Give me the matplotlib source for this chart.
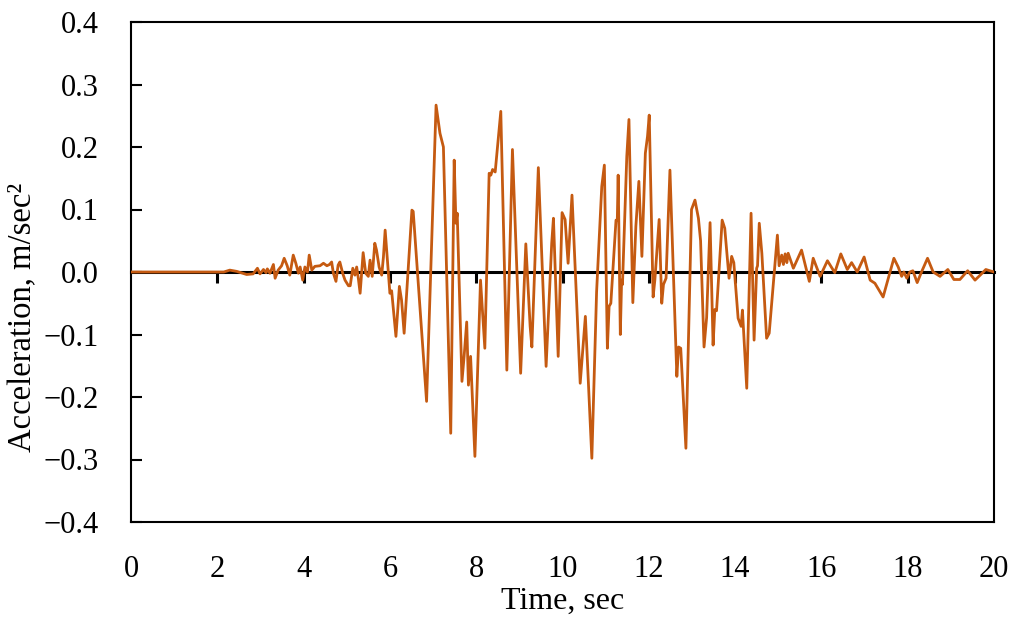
import matplotlib
matplotlib.use("Agg")
import matplotlib.pyplot as plt

time_s = [0.00, 1.00, 2.00, 2.15, 2.29, 2.45, 2.68, 2.83, 2.93, 2.99, 3.07, 3.13, 3.16, 3.22,
          3.30, 3.34, 3.41, 3.49, 3.55, 3.62, 3.68, 3.76, 3.82, 3.88, 3.92, 3.98, 4.03,
          4.09, 4.13, 4.19, 4.26, 4.38, 4.46, 4.54, 4.60, 4.65, 4.69, 4.75, 4.80, 4.84,
          4.91, 4.96, 5.04, 5.08, 5.14, 5.19, 5.23, 5.27, 5.31, 5.38, 5.44, 5.50, 5.54,
          5.59, 5.65, 5.69, 5.75, 5.81, 5.85, 5.89, 5.93, 6.00, 6.04, 6.14, 6.22, 6.27,
          6.33, 6.51, 6.54, 6.85, 7.07, 7.16, 7.24, 7.41, 7.49, 7.53, 7.56, 7.67, 7.72,
          7.78, 7.82, 7.87, 7.97, 8.10, 8.20, 8.30, 8.34, 8.38, 8.44, 8.57, 8.71, 8.84,
          9.03, 9.15, 9.25, 9.29, 9.44, 9.62, 9.75, 9.79, 9.90, 9.99, 10.06, 10.13,
          10.22, 10.41, 10.53, 10.68, 10.79, 10.91, 10.97, 11.04, 11.08, 11.12, 11.24,
          11.27, 11.29, 11.34, 11.37, 11.39, 11.49, 11.54, 11.63, 11.70, 11.77, 11.84,
          11.92, 11.97, 12.01, 12.10, 12.14, 12.24, 12.30, 12.34, 12.40, 12.49, 12.65,
          12.69, 12.74, 12.86, 12.99, 13.07, 13.15, 13.20, 13.28, 13.34, 13.42, 13.49,
          13.53, 13.57, 13.70, 13.76, 13.86, 13.92, 13.97, 14.07, 14.14, 14.17, 14.21,
          14.27, 14.37, 14.44, 14.50, 14.52, 14.56, 14.62, 14.73, 14.79, 14.92, 14.98,
          15.02, 15.08, 15.12, 15.16, 15.20, 15.23, 15.35, 15.54, 15.72, 15.81, 15.97,
          16.14, 16.31, 16.45, 16.60, 16.70, 16.83, 16.99, 17.13, 17.24, 17.43, 17.59,
          17.68, 17.78, 17.86, 17.91, 17.98, 18.05, 18.12, 18.22, 18.32, 18.46, 18.59,
          18.75, 18.93, 19.07, 19.21, 19.39, 19.56, 19.68, 19.81, 20.00]

accel = [0.000, 0.000, 0.000, 0.000, 0.003, 0.001, -0.004, -0.003, 0.006, -0.003, 0.004, -0.001, 0.005, -0.002,
         0.012, -0.010, 0.003, 0.010, 0.022, 0.010, -0.005, 0.027, 0.014, -0.002, 0.008, -0.013, 0.008,
         0.000, 0.027, 0.003, 0.009, 0.010, 0.014, 0.010, 0.012, 0.016, -0.002, -0.015, 0.011, 0.016,
         -0.003, -0.013, -0.022, -0.022, 0.006, -0.005, 0.008, -0.011, -0.034, 0.031, -0.002, -0.007, 0.019,
         -0.007, 0.046, 0.035, 0.008, -0.005, 0.024, 0.067, 0.030, -0.034, -0.030, -0.103, -0.023, -0.045,
         -0.098, 0.099, 0.097, -0.207, 0.267, 0.222, 0.200, -0.258, 0.179, 0.078, 0.094, -0.175, -0.135,
         -0.080, -0.181, -0.135, -0.295, -0.013, -0.122, 0.158, 0.155, 0.164, 0.160, 0.257, -0.157, 0.196,
         -0.162, 0.045, -0.087, -0.120, 0.167, -0.151, 0.046, 0.086, -0.135, 0.095, 0.084, 0.014,
         0.123, -0.178, -0.071, -0.298, -0.032, 0.137, 0.171, -0.122, -0.055, -0.050, 0.083,
         0.083, 0.155, -0.100, -0.013, -0.020, 0.185, 0.244, -0.049, 0.073, 0.145, 0.025,
         0.190, 0.217, 0.251, -0.040, -0.013, 0.084, -0.050, -0.020, -0.010, 0.163, -0.167,
         -0.120, -0.122, -0.282, 0.100, 0.115, 0.086, 0.050, -0.120, -0.073, 0.079, -0.117,
         -0.060, -0.062, 0.083, 0.070, -0.010, 0.025, 0.015, -0.074, -0.087, -0.061, -0.111,
         -0.186, 0.094, -0.109, 0.006, 0.010, 0.078, 0.030, -0.106, -0.098, 0.008, 0.059,
         0.010, 0.027, 0.012, 0.029, 0.015, 0.030, 0.006, 0.035, -0.015, 0.022, -0.007,
         0.018, -0.001, 0.029, 0.004, 0.015, 0.000, 0.024, -0.013, -0.018, -0.040, 0.000,
         0.022, 0.008, -0.007, 0.000, -0.010, 0.000, 0.002, -0.017, 0.000, 0.022, 0.000,
         -0.007, 0.004, -0.012, -0.012, 0.002, -0.013, -0.005, 0.004, 0.000]

x_ticks = [0, 2, 4, 6, 8, 10, 12, 14, 16, 18, 20]
y_ticks = [-0.4, -0.3, -0.2, -0.1, 0.0, 0.1, 0.2, 0.3, 0.4]

plt.rcParams['font.family'] = ['Liberation Serif', 'DejaVu Serif']
plt.rcParams['axes.unicode_minus'] = True

fig = plt.figure(figsize=(10.17, 6.22), dpi=100)
ax = fig.add_axes([131/1017, 1 - 522/622, (994-131)/1017, (522-22)/622])

ax.plot(time_s, accel, color='#C55A11', linewidth=2.0, zorder=3,
        solid_joinstyle='round')

ax.set_xlim(0, 20)
ax.set_ylim(-0.4, 0.4)
ax.set_xticks(x_ticks)
ax.set_xticklabels([str(v) for v in x_ticks])
ax.set_yticks(y_ticks)
ax.set_yticklabels([f"{v:.1f}".replace('-', '\u2212') for v in y_ticks])

ax.tick_params(axis='x', length=0, labelsize=22, pad=24)
ax.tick_params(axis='y', direction='in', length=8, width=1.5, labelsize=22, pad=23)
for s in ax.spines.values():
    s.set_linewidth(1.5)
    s.set_color('black')

# zero-crossing axis line with tick marks pointing down
sec = ax.secondary_xaxis(0.5)
sec.set_xticks(x_ticks[1:-1])
sec.set_xticklabels([])
sec.tick_params(axis='x', direction='in', length=8, width=2.2)
for s in sec.spines.values():
    s.set_linewidth(2.2)
    s.set_color('black')
sec.set_zorder(2)

ax.set_xlabel('Time, sec', fontsize=23, labelpad=1.5)
ax.set_ylabel('Acceleration, m/sec\u00b2', fontsize=23.5)
ax.yaxis.set_label_coords(-0.108, 0.41)

fig.savefig('out.png', dpi=100)
